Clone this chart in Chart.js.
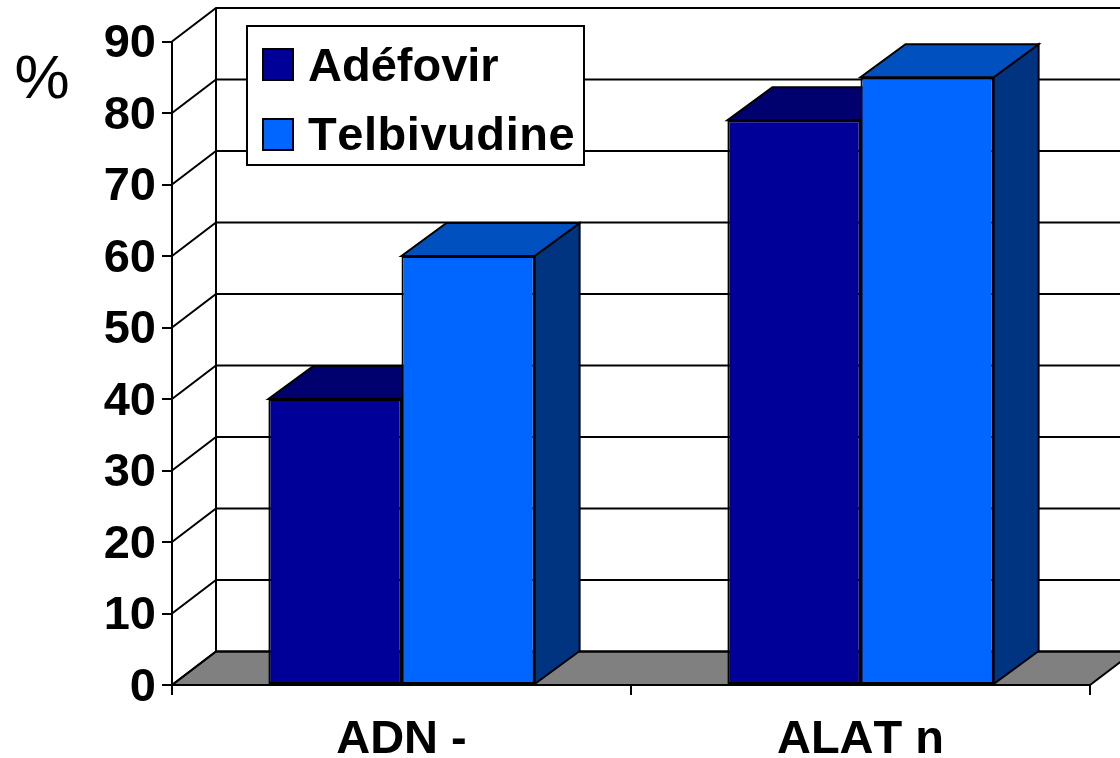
<!DOCTYPE html>
<html>
<head>
<meta charset="utf-8">
<title>Adéfovir / Telbivudine</title>
<script src="https://cdn.jsdelivr.net/npm/chart.js@4"></script>
<style>
  html, body { margin: 0; padding: 0; background: #fff; overflow: hidden; }
  canvas { display: block; }
</style>
</head>
<body>
<canvas id="myChart" width="1120" height="758"></canvas>
<script>
const categories = ["ADN -", "ALAT n"];
const adefovir = [40, 79];
const telbivudine = [60, 85];
const seriesNames = ["Adéfovir", "Telbivudine"];
const unitLabel = "%";

const frontColors = ["#000099", "#0066FF"];
const topColors = ["#00006E", "#0050BF"];
const sideColors = ["#00004D", "#003380"];
const fontName = "'Liberation Sans', Arial, sans-serif";

// depth of the fake 3D box
const wallDx = 44, wallDy = -33.5;
const barDx = 45, barDy = -33;

function poly(ctx, pts, fill) {
  ctx.beginPath();
  pts.forEach((p, i) => (i ? ctx.lineTo(p[0], p[1]) : ctx.moveTo(p[0], p[1])));
  ctx.closePath();
  ctx.fillStyle = fill;
  ctx.fill();
  ctx.stroke();
}

const box3d = {
  id: "box3d",
  beforeDraw(chart) {
    const { ctx, chartArea: a } = chart;
    const yScale = chart.scales.y;

    // reference text has no kerning, and its y labels sit a bit lower
    ctx.fontKerning = "none";
    if (!chart.$labelsMoved) {
      yScale.getLabelItems().forEach((it) => { it.textOffset += 3; });
      chart.$labelsMoved = true;
    }

    ctx.save();
    ctx.strokeStyle = "#000";
    ctx.lineWidth = 2;

    // floor
    poly(ctx, [[a.left, a.bottom], [a.right, a.bottom],
      [a.right + wallDx, a.bottom + wallDy], [a.left + wallDx, a.bottom + wallDy]], "#808080");

    // gridlines: side wall diagonal + back wall
    yScale.ticks.forEach((t) => {
      const y = yScale.getPixelForValue(t.value);
      ctx.beginPath();
      ctx.moveTo(a.left, y);
      ctx.lineTo(a.left + wallDx, y + wallDy);
      ctx.lineTo(chart.width + 5, y + wallDy);
      ctx.stroke();
    });

    // back wall left edge
    ctx.beginPath();
    ctx.moveTo(a.left + wallDx, a.top + wallDy);
    ctx.lineTo(a.left + wallDx, a.bottom + wallDy);
    ctx.stroke();
    ctx.restore();
  },
  beforeDatasetsDraw(chart) {
    const { ctx } = chart;
    ctx.save();
    ctx.strokeStyle = "#000";
    ctx.lineWidth = 2;
    ctx.lineJoin = "miter";
    chart.data.datasets.forEach((ds, i) => {
      chart.getDatasetMeta(i).data.forEach((bar) => {
        const l = bar.x - bar.width / 2, r = bar.x + bar.width / 2;
        poly(ctx, [[r, bar.y], [r, bar.base], [r + barDx, bar.base + barDy], [r + barDx, bar.y + barDy]], sideColors[i]);
        poly(ctx, [[l, bar.y], [r, bar.y], [r + barDx, bar.y + barDy], [l + barDx, bar.y + barDy]], topColors[i]);
      });
    });
    ctx.restore();
  },
  afterDraw(chart) {
    const { ctx } = chart;
    ctx.save();

    // unit label
    ctx.fillStyle = "#000";
    ctx.font = "62px " + fontName;
    ctx.textAlign = "center";
    ctx.textBaseline = "alphabetic";
    ctx.fillText(unitLabel, 42, 98);

    // legend box
    ctx.strokeStyle = "#000";
    ctx.lineWidth = 2;
    ctx.fillStyle = "#fff";
    ctx.fillRect(247, 26, 337, 139);
    ctx.strokeRect(247, 26, 337, 139);
    const swatchY = [49, 119];
    const textY = [81, 150];
    const spacing = ["0px", "0.55px"];
    seriesNames.forEach((name, i) => {
      ctx.fillStyle = frontColors[i];
      ctx.fillRect(263, swatchY[i], 30, 31);
      ctx.strokeRect(263, swatchY[i], 30, 31);
      ctx.fillStyle = "#000";
      ctx.font = "bold 47px " + fontName;
      ctx.letterSpacing = spacing[i];
      ctx.textAlign = "left";
      ctx.fillText(name, 308, textY[i]);
    });
    ctx.restore();
  },
};

new Chart(document.getElementById("myChart"), {
  type: "bar",
  data: {
    labels: categories,
    datasets: [
      { label: seriesNames[0], data: adefovir, backgroundColor: frontColors[0] },
      { label: seriesNames[1], data: telbivudine, backgroundColor: frontColors[1] },
    ],
  },
  options: {
    responsive: false,
    animation: false,
    layout: { padding: { left: 0, top: 41.5, right: 30, bottom: 0 } },
    datasets: {
      bar: {
        barPercentage: 1,
        categoryPercentage: 0.58,
        borderColor: "#000",
        borderWidth: 2,
        borderSkipped: false,
      },
    },
    plugins: { legend: { display: false }, tooltip: { enabled: false } },
    scales: {
      x: {
        afterFit(scale) { scale.height = 73; },
        grid: { drawOnChartArea: false, color: "#000", lineWidth: 2, tickLength: 10 },
        border: { color: "#000", width: 2 },
        ticks: {
          color: "#000",
          padding: 17,
          maxRotation: 0,
          font: { family: fontName, size: 47, weight: "bold" },
        },
      },
      y: {
        min: 0,
        max: 90,
        afterFit(scale) { scale.width = 172; },
        grid: { drawOnChartArea: false, color: "#000", lineWidth: 2, tickLength: 10 },
        border: { color: "#000", width: 2 },
        ticks: {
          stepSize: 10,
          color: "#000",
          padding: 6,
          font: { family: fontName, size: 47, weight: "bold" },
        },
      },
    },
  },
  plugins: [box3d],
});
</script>
</body>
</html>
